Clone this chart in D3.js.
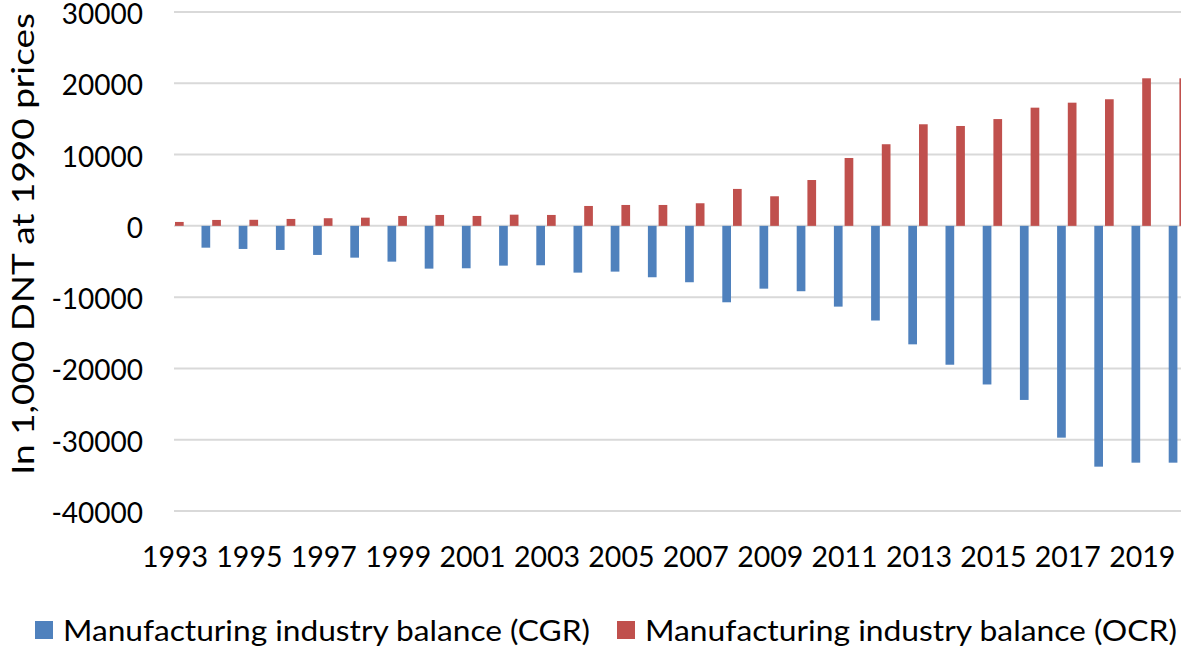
<!DOCTYPE html>
<html>
<head>
<meta charset="utf-8">
<script src="https://cdn.jsdelivr.net/npm/d3@7"></script>
<style>
  html, body { margin: 0; padding: 0; background: #fff; }
  svg { display: block; }
  text { font-family: Lato, "Open Sans", sans-serif; fill: #000; }
</style>
</head>
<body>
<svg id="chart" width="1181" height="648"></svg>
<script>
const years = [1993,1994,1995,1996,1997,1998,1999,2000,2001,2002,2003,2004,2005,2006,
               2007,2008,2009,2010,2011,2012,2013,2014,2015,2016,2017,2018,2019,2020];
const cgr = [0,-3060,-3240,-3380,-4080,-4460,-5020,-6000,-5950,-5580,-5530,-6560,-6420,-7210,
             -7910,-10720,-8810,-9170,-11330,-13280,-16620,-19480,-22250,-24420,-29710,-33780,-33220,-33220];
const ocr = [550,830,850,970,1070,1150,1390,1530,1390,1570,1530,2790,2930,2930,
             3170,5180,4150,6430,9520,11450,14250,14010,14980,16580,17280,17760,20700,20700];
const yTicks = [30000,20000,10000,0,-10000,-20000,-30000,-40000];
const xLabelYears = [1993,1995,1997,1999,2001,2003,2005,2007,2009,2011,2013,2015,2017,2019];
const seriesNames = ["Manufacturing industry balance (CGR)", "Manufacturing industry balance (OCR)"];
const colors = ["#4f81bd", "#c0504d"];
const yTitle = "In 1,000 DNT at 1990 prices";
</script>
<script>
const svg = d3.select("#chart");
const W = 1181;
const step = 37.2, c0 = 174;
const x = d3.scaleBand().domain(years).range([c0 - step/2, c0 - step/2 + step*years.length]).padding(0);
const sub = d3.scaleBand().domain(["cgr","ocr"]).range([-9.7, 9.7]).paddingInner(0.187);
const y = d3.scaleLinear().domain([-40000, 30000]).range([511, 12]);
const cx = d => x(d) + x.bandwidth()/2;

// gridlines
svg.append("g").selectAll("line").data(yTicks).join("line")
  .attr("x1", c0).attr("x2", W)
  .attr("y1", d => y(d)).attr("y2", d => y(d))
  .attr("stroke", "#d9d9d9").attr("stroke-width", 2);

// y tick labels
svg.append("g").selectAll("text").data(yTicks).join("text")
  .attr("x", 143).attr("y", d => y(d) + 1)
  .attr("text-anchor", "end").attr("dominant-baseline", "central")
  .style("font-size", "28px")
  .text(d => d);

// bars
const data = years.map((yr, i) => ({yr, cgr: cgr[i], ocr: ocr[i]}));
svg.append("g").selectAll("rect").data(data.filter(d => d.cgr !== 0)).join("rect")
  .attr("x", d => cx(d.yr) + sub("cgr"))
  .attr("width", sub.bandwidth())
  .attr("y", d => y(0))
  .attr("height", d => y(d.cgr) - y(0))
  .attr("fill", colors[0]);
svg.append("g").selectAll("rect").data(data).join("rect")
  .attr("x", d => cx(d.yr) + sub("ocr"))
  .attr("width", sub.bandwidth())
  .attr("y", d => y(d.ocr))
  .attr("height", d => y(0) - y(d.ocr))
  .attr("fill", colors[1]);

// x labels
svg.append("g").selectAll("text").data(xLabelYears).join("text")
  .attr("x", d => cx(d) + 1).attr("y", 556)
  .attr("text-anchor", "middle").attr("dominant-baseline", "central")
  .style("font-size", "28.5px")
  .text(d => d);

// y title
svg.append("text")
  .attr("transform", "translate(22,244) rotate(-90)")
  .attr("text-anchor", "middle").attr("dominant-baseline", "central")
  .attr("textLength", 462).attr("lengthAdjust", "spacingAndGlyphs")
  .style("font-size", "30px")
  .text(yTitle);

// legend
const legX = [35, 617];
const legW = [527, 532];
const lg = svg.append("g").selectAll("g").data(seriesNames).join("g")
  .attr("transform", (d, i) => `translate(${legX[i]},630)`);
lg.append("rect").attr("x", 0).attr("y", -9).attr("width", 18).attr("height", 18)
  .attr("fill", (d, i) => colors[i]);
lg.append("text").attr("x", 28).attr("y", 0).attr("dominant-baseline", "central")
  .attr("textLength", (d, i) => legW[i]).attr("lengthAdjust", "spacingAndGlyphs")
  .style("font-size", "28px").text(d => d);
</script>
</body>
</html>
